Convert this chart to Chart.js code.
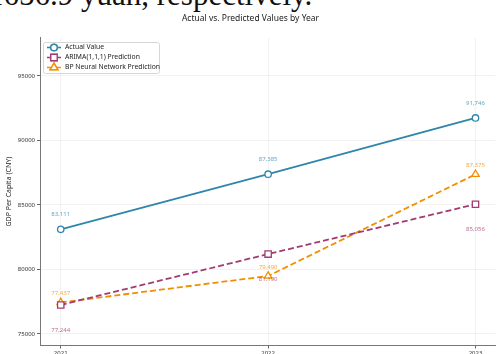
<!DOCTYPE html>
<html>
<head>
<meta charset="utf-8">
<script src="https://cdn.jsdelivr.net/npm/chart.js@4.4.1/dist/chart.umd.min.js"></script>
<style>
  html, body { margin: 0; padding: 0; background: #fff; overflow: hidden; }
  #wrap { position: relative; width: 501px; height: 354px; overflow: hidden; }
  #lead { position: absolute; left: -12px; top: -23.5px; font-family: "Liberation Serif", serif; font-size: 31px; color: #111; white-space: nowrap; }
  canvas { position: absolute; left: 0; top: 0; }
</style>
</head>
<body>
<div id="wrap">
  <div id="lead">1656.9 yuan, respectively.</div>
  <canvas id="c" width="501" height="354"></canvas>
</div>
<script>
// Years and GDP per capita (CNY)
const years = [2021, 2022, 2023];
const actualValues = [83111, 87385, 91746];
const arimaValues = [77244, 81190, 85056];
const bpValues = [77437, 79490, 87375];
const yTickValues = [75000, 80000, 85000, 90000, 95000];

const seriesNames = ['Actual Value', 'ARIMA(1,1,1) Prediction', 'BP Neural Network Prediction'];
const seriesColors = ['#2E86AB', '#A23B72', '#F18F01'];
const labelColors = ['rgba(46,134,171,0.75)', 'rgba(162,59,114,0.75)', 'rgba(241,143,1,0.75)'];

const toPoints = vals => years.map((y, i) => ({ x: y, y: vals[i] }));

const textFont = '"Noto Sans", "DejaVu Sans", sans-serif';

// value labels next to each marker
const valueLabels = {
  id: 'valueLabels',
  afterDatasetsDraw(chart) {
    const ctx = chart.ctx;
    const offsets = [-15, 25, -9];
    ctx.save();
    ctx.font = '6px ' + textFont;
    ctx.textAlign = 'center';
    ctx.textBaseline = 'middle';
    chart.data.datasets.forEach((ds, di) => {
      const meta = chart.getDatasetMeta(di);
      meta.data.forEach((pt, i) => {
        ctx.fillStyle = labelColors[di];
        ctx.fillText(ds.data[i].y.toLocaleString('en-US'), pt.x, pt.y + offsets[di]);
      });
    });
    ctx.restore();
  }
};

// legend box with line + marker samples
const lineLegend = {
  id: 'lineLegend',
  afterDraw(chart) {
    const ctx = chart.ctx;
    const x0 = 43, y0 = 42, w = 116, h = 31;
    ctx.save();
    ctx.fillStyle = 'rgba(255,255,255,0.85)';
    ctx.strokeStyle = '#d6d6d6';
    ctx.lineWidth = 1;
    ctx.beginPath();
    ctx.roundRect(x0 + 0.5, y0 + 0.5, w, h, 2);
    ctx.fill();
    ctx.stroke();
    chart.data.datasets.forEach((ds, i) => {
      const cy = y0 + 5.5 + i * 10;
      ctx.strokeStyle = ds.borderColor;
      ctx.lineWidth = 1.6;
      ctx.setLineDash(ds.borderDash || []);
      ctx.beginPath();
      ctx.moveTo(x0 + 4, cy);
      ctx.lineTo(x0 + 18, cy);
      ctx.stroke();
      ctx.setLineDash([]);
      Chart.helpers.drawPoint(ctx, {
        pointStyle: ds.pointStyle,
        radius: ds.pointRadius,
        borderWidth: ds.pointBorderWidth,
        rotation: 0
      }, x0 + 11, cy);
      ctx.fillStyle = '#fff';
      ctx.strokeStyle = ds.borderColor;
      ctx.lineWidth = ds.pointBorderWidth;
      ctx.fill();
      ctx.stroke();
      ctx.fillStyle = '#222';
      ctx.font = '6.8px ' + textFont;
      ctx.textBaseline = 'middle';
      ctx.textAlign = 'left';
      ctx.fillText(ds.label, x0 + 22, cy);
    });
    ctx.restore();
  }
};

const mkDataset = (i, vals, style, radius, dash) => ({
  label: seriesNames[i],
  data: toPoints(vals),
  borderColor: seriesColors[i],
  backgroundColor: '#ffffff',
  borderWidth: 1.8,
  borderDash: dash,
  pointStyle: style,
  pointRadius: radius,
  pointHoverRadius: radius,
  pointBorderWidth: 1.3,
  pointBackgroundColor: '#ffffff',
  pointBorderColor: seriesColors[i],
  tension: 0,
  fill: false
});

new Chart(document.getElementById('c'), {
  type: 'line',
  data: {
    datasets: [
      mkDataset(0, actualValues, 'circle', 3.2, []),
      mkDataset(1, arimaValues, 'rect', 4.5, [6, 3]),
      mkDataset(2, bpValues, 'triangle', 4.3, [6, 3])
    ]
  },
  options: {
    responsive: false,
    animation: false,
    devicePixelRatio: 1,
    layout: { padding: { left: 0, right: 0, top: 0, bottom: 0 } },
    plugins: {
      legend: { display: false },
      tooltip: { enabled: false },
      title: {
        display: true,
        text: 'Actual vs. Predicted Values by Year',
        color: '#222',
        font: { family: textFont, size: 8.5, weight: 'normal' },
        padding: { top: 13, bottom: 14.5 }
      }
    },
    scales: {
      x: {
        type: 'linear',
        min: 2020.9,
        max: 2023.095,
        afterBuildTicks: s => { s.ticks = years.map(v => ({ value: v })); },
        afterFit: s => { s.height = 8.5; },
        grid: { color: 'rgba(0,0,0,0.05)', tickLength: 3, tickColor: '#666' },
        border: { color: '#777', width: 1 },
        ticks: {
          color: '#333',
          font: { family: textFont, size: 6 },
          padding: 1,
          callback: v => String(v),
          maxRotation: 0
        }
      },
      y: {
        type: 'linear',
        min: 74100,
        max: 97970,
        afterBuildTicks: s => { s.ticks = yTickValues.map(v => ({ value: v })); },
        afterFit: s => { s.width = 40; },
        grid: { color: 'rgba(0,0,0,0.05)', tickLength: 3, tickColor: '#666' },
        border: { color: '#777', width: 1 },
        title: {
          display: true,
          text: 'GDP Per Capita (CNY)',
          color: '#222',
          font: { family: textFont, size: 7 },
          padding: { top: 5, bottom: 0 }
        },
        ticks: {
          color: '#333',
          font: { family: textFont, size: 6 },
          padding: 2,
          callback: v => String(v)
        }
      }
    }
  },
  plugins: [valueLabels, lineLegend]
});
</script>
</body>
</html>
